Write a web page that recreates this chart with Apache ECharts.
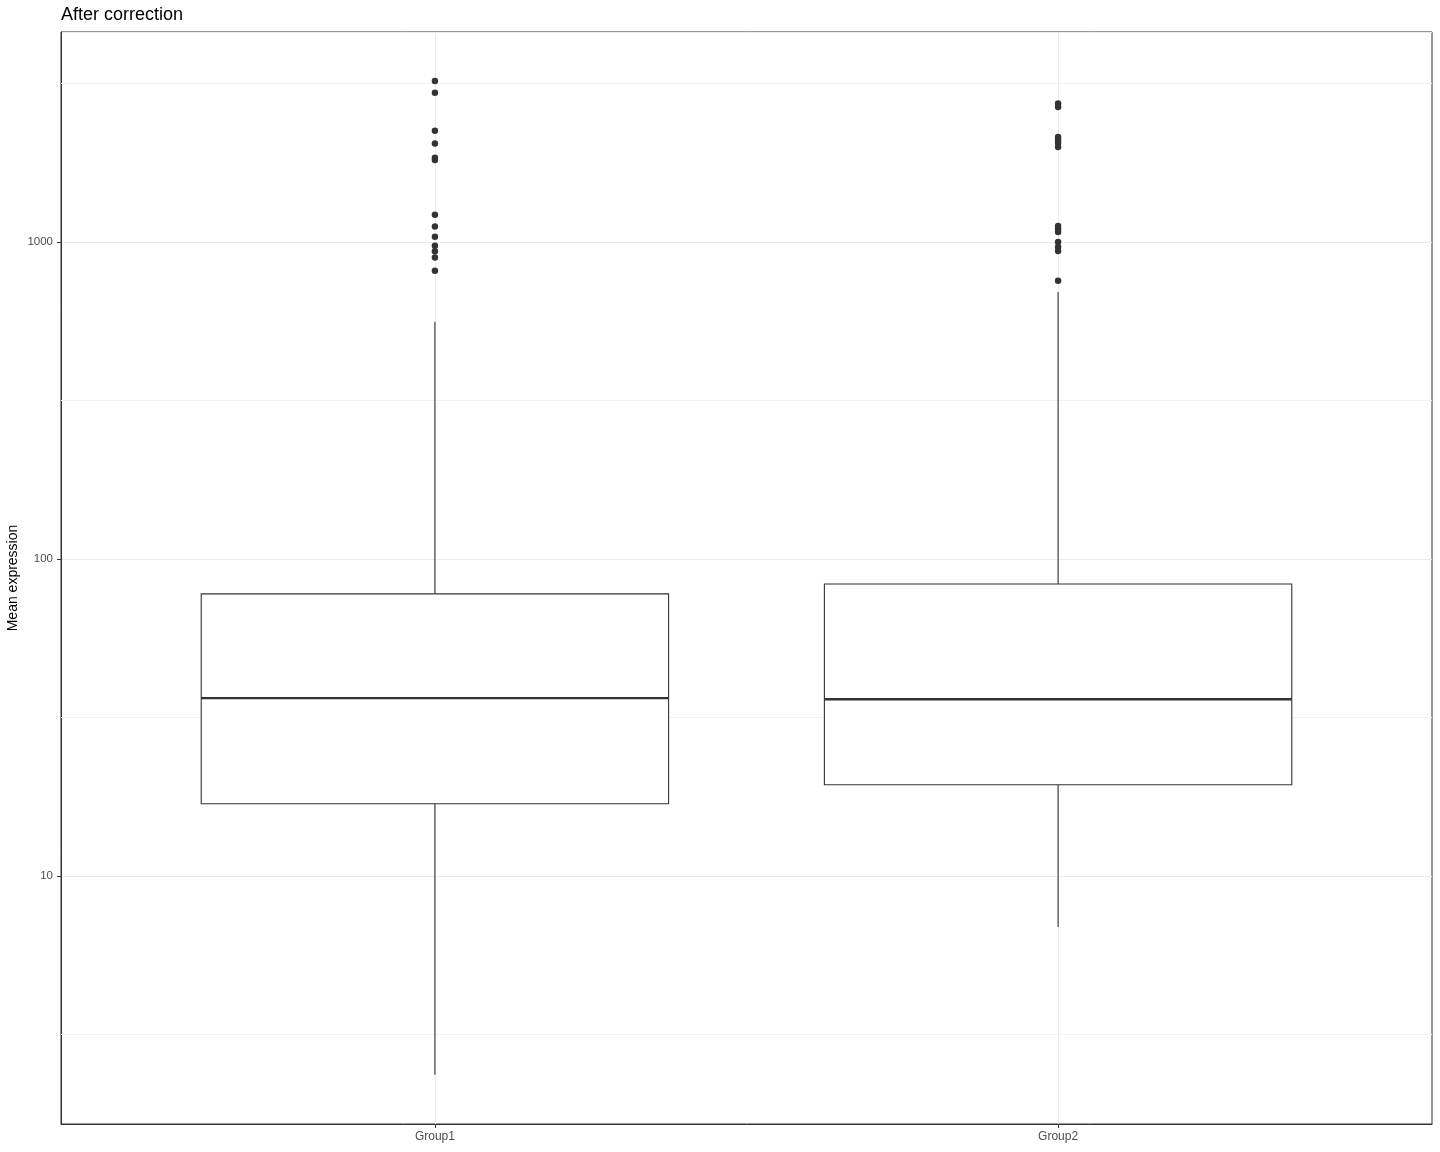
<!DOCTYPE html>
<html>
<head>
<meta charset="utf-8">
<script src="https://cdn.jsdelivr.net/npm/echarts@6/dist/echarts.min.js"></script>
<style>
  html, body { margin: 0; padding: 0; background: #fff; }
  #chart { width: 1440px; height: 1152px; }
</style>
</head>
<body>
<div id="chart"></div>
<script>
// groups on the x axis (positions 1, 2)
var groups = ['Group1', 'Group2'];

// box stats: [lower whisker, Q1, median, Q3, upper whisker]
var group1Stats = [2.36, 16.9, 36.4, 77.6, 560];
var group2Stats = [6.9, 19.4, 36.1, 83.4, 695];

// outliers above the upper whisker
var group1Outliers = [3221, 2958, 2245, 2046, 1845, 1815, 1219, 1118, 1039, 973, 935, 894, 812];
var group2Outliers = [2735, 2667, 2142, 2098, 2053, 1995, 1123, 1099, 1075, 1000, 964, 937, 755];

// y axis range and minor grid lines (half decades)
var yMin = 1.65;
var yMax = 4596;
var minorLines = [3.162, 31.62, 316.2, 3162];

var boxData = [
  [1].concat(group1Stats),
  [2].concat(group2Stats)
];

var outlierData = [];
group1Outliers.forEach(function (v) { outlierData.push([1, v]); });
group2Outliers.forEach(function (v) { outlierData.push([2, v]); });

function renderBox(params, api) {
  var x = api.value(0);
  var lo = api.coord([x, api.value(1)]);
  var q1 = api.coord([x, api.value(2)]);
  var med = api.coord([x, api.value(3)]);
  var q3 = api.coord([x, api.value(4)]);
  var hi = api.coord([x, api.value(5)]);
  var left = api.coord([x - 0.375, api.value(3)])[0];
  var right = api.coord([x + 0.375, api.value(3)])[0];
  var lineStyle = { stroke: '#333333', lineWidth: 1.1, fill: null };
  return {
    type: 'group',
    children: [
      { type: 'line', shape: { x1: hi[0], y1: hi[1], x2: q3[0], y2: q3[1] }, style: lineStyle },
      { type: 'line', shape: { x1: q1[0], y1: q1[1], x2: lo[0], y2: lo[1] }, style: lineStyle },
      { type: 'rect', shape: { x: left, y: q3[1], width: right - left, height: q1[1] - q3[1] },
        style: { fill: '#ffffff', stroke: '#333333', lineWidth: 1.1 } },
      { type: 'line', shape: { x1: left, y1: med[1], x2: right, y2: med[1] },
        style: { stroke: '#333333', lineWidth: 2.4 } }
    ]
  };
}

var option = {
  animation: false,
  backgroundColor: '#ffffff',
  textStyle: { fontFamily: 'Liberation Sans, Arial, sans-serif' },
  title: {
    text: 'After correction',
    left: 61,
    top: 6,
    padding: 0,
    textStyle: { fontSize: 18, fontWeight: 'normal', color: '#000000', fontFamily: 'Liberation Sans, Arial, sans-serif' }
  },
  grid: {
    left: 61, right: 8, top: 32, bottom: 28,
    containLabel: false,
    outerBoundsMode: 'none',
    show: true, borderColor: '#333333', borderWidth: 1, backgroundColor: 'transparent'
  },
  xAxis: {
    type: 'value',
    min: 0.4,
    max: 2.6,
    axisLine: { show: true, lineStyle: { color: '#333333', width: 1 } },
    axisTick: { show: true, length: 4, customValues: [1, 2], lineStyle: { color: '#333333' } },
    axisLabel: {
      customValues: [1, 2],
      margin: 7,
      fontSize: 12,
      color: '#4D4D4D',
      formatter: function (v) { return groups[Math.round(v) - 1] || ''; }
    },
    splitLine: { show: true, lineStyle: { color: '#EBEBEB', width: 1 } }
  },
  yAxis: {
    type: 'log',
    logBase: 10,
    min: yMin,
    max: yMax,
    name: 'Mean expression',
    nameLocation: 'middle',
    nameGap: 41,
    nameRotate: 90,
    nameMoveOverlap: false,
    nameTextStyle: { fontSize: 14, color: '#000000' },
    axisLine: { show: true, lineStyle: { color: '#333333', width: 1 } },
    axisTick: { show: true, length: 4, lineStyle: { color: '#333333' } },
    axisLabel: {
      margin: 8, fontSize: 11.5, color: '#4D4D4D', showMinLabel: false, showMaxLabel: false,
      formatter: function (v) { return String(Math.round(v)); }
    },
    splitLine: { show: true, lineStyle: { color: '#EBEBEB', width: 1.2 } }
  },
  series: [
    {
      name: 'outliers',
      type: 'scatter',
      z: 3,
      data: outlierData,
      symbol: 'circle',
      symbolSize: 6.5,
      itemStyle: { color: '#333333', opacity: 1 },
      markLine: {
        z: 1,
        silent: true,
        symbol: ['none', 'none'],
        label: { show: false },
        lineStyle: { color: '#F2F2F2', width: 1, type: 'solid' },
        data: minorLines.map(function (v) { return { yAxis: v }; })
      }
    },
    {
      name: 'boxes',
      type: 'custom',
      z: 2,
      renderItem: renderBox,
      encode: { x: 0, y: [1, 2, 3, 4, 5] },
      data: boxData
    }
  ]
};

var myChart = echarts.init(document.getElementById('chart'));
myChart.setOption(option);
</script>
</body>
</html>
